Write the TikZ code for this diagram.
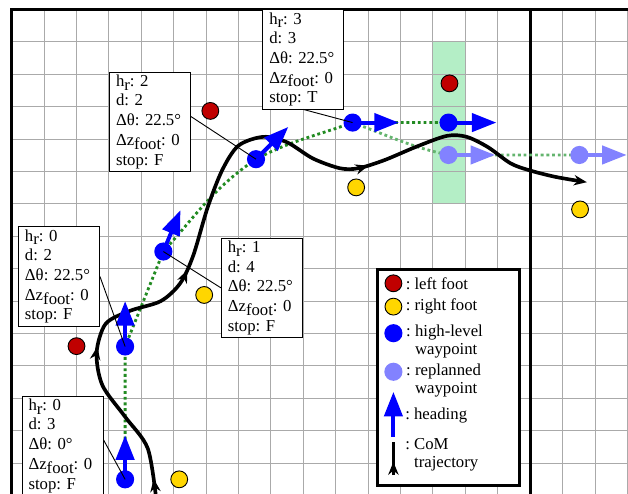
\documentclass[tikz,border=0pt]{standalone}
\usepackage{fontspec}
\setmainfont{Liberation Serif}
\usetikzlibrary{positioning,arrows.meta,decorations.markings,backgrounds}
\definecolor{pieizq}{RGB}{192,0,0}
\definecolor{pieder}{RGB}{255,214,0}
\definecolor{azulplan}{RGB}{0,0,255}
\definecolor{azulrepl}{RGB}{130,130,255}
\definecolor{verderuta}{RGB}{34,139,34}
\definecolor{verderepl}{RGB}{100,180,110}
\definecolor{verdefondo}{RGB}{180,238,198}
\definecolor{gristrama}{RGB}{170,170,170}
\newcommand{\bajo}[1]{\raisebox{-0.5ex}{#1}}
\frenchspacing

\begin{document}
\begin{tikzpicture}[
    font=\fontsize{14.7}{17.3}\selectfont,
    >={Stealth[length=0.4cm,width=0.32cm]},
    caja/.style={draw, fill=white, line width=0.8pt, align=left, text width=2.1cm,
                 inner xsep=0.2cm, inner ysep=0.08cm},
    pie/.style={circle, draw, line width=0.8pt, minimum size=0.52cm, inner sep=0pt},
    punto/.style={circle, fill=azulplan, minimum size=0.56cm, inner sep=0pt},
    rumbo/.style={line width=3.5pt, color=azulplan, -{Triangle[length=0.76cm,width=0.56cm]}},
    ruta/.style={line width=2.5pt, color=verderuta, dash pattern=on 2.5pt off 2.5pt},
    com/.style={line width=3.2pt, line cap=butt},
    conector/.style={line width=0.8pt},
    leyenda/.style={align=left, inner sep=0pt, font=\fontsize{14.7}{15.8}\selectfont}]
  \useasboundingbox (-0.361,-14.95) rectangle (19.02,0.293);
  \node[punto] (w1) at (3.5,-14.5) {};
  \node[punto] (w2) at (3.5,-10.4) {};
  \node[punto] (w3) at (4.68,-7.47) {};
  \node[punto] (w4) at (7.54,-4.62) {};
  \node[punto] (w5) at (10.52,-3.49) {};
  \node[punto] (w6) at (13.48,-3.49) {};
  \node[punto, fill=azulrepl] (r1) at (13.48,-4.49) {};
  \node[punto, fill=azulrepl] (r2) at (17.52,-4.49) {};
  \node[pie, fill=pieizq] (i1) at (2.0,-10.39) {};
  \node[pie, fill=pieizq] (i2) at (6.13,-3.13) {};
  \node[pie, fill=pieizq] (i3) at (13.51,-2.28) {};
  \node[pie, fill=pieder] (d1) at (5.17,-14.5) {};
  \node[pie, fill=pieder] (d2) at (5.94,-8.81) {};
  \node[pie, fill=pieder] (d3) at (10.63,-5.49) {};
  \node[pie, fill=pieder] (d4) at (17.54,-6.17) {};
  \begin{scope}[on background layer]
    \fill[verdefondo] (13,-1) rectangle (14,-6);
    \draw[gristrama, line width=0.8pt] (0,-14.95) grid (19.02,0);
    \draw[line width=2.6pt] (0,-14.95) -- (0,0) -- (19.02,0);
    \draw[line width=2.6pt] (16,0) -- (16,-14.95);
    \draw[ruta] (w1.center) -- (w2.center) -- (w3.center) to[out=48,in=214] (w4.center)
      to[out=28,in=200] (w5.center) -- (w6.center);
    \draw[ruta, verderepl] (w5.center) to[out=-20,in=168] (r1.center) -- (r2.center);
    \draw[com, ->, postaction={decorate}, decoration={markings,
        mark=at position 0.72cm with {\arrow{>}},
        mark=at position 5.3cm with {\arrow{>}},
        mark=at position 9.2cm with {\arrow{>}},
        mark=at position 17.68cm with {\arrow{>}}}]
      plot[smooth] coordinates {(4.47,-15.2) (4.2,-13.55) (3.5,-12.57) (2.8,-11.6)
        (2.62,-10.6) (2.9,-9.7) (3.65,-9.3) (4.6,-9.0) (5.2,-8.45) (5.6,-7.6)
        (6.05,-6.1) (6.5,-4.95) (7.0,-4.2) (7.77,-3.93) (8.5,-4.1) (9.3,-4.6)
        (10.13,-4.9) (10.7,-4.9) (11.5,-4.65) (12.5,-4.23) (13.43,-3.9) (14.04,-3.93)
        (14.7,-4.25) (15.4,-4.75) (16.0,-4.97) (16.8,-5.17) (17.75,-5.33)};
  \end{scope}
  \draw[rumbo] (w1.center) -- ++(90:1.36);
  \draw[rumbo] (w2.center) -- ++(90:1.4);
  \draw[rumbo] (w3.center) -- ++(67.5:1.38);
  \draw[rumbo] (w4.center) -- ++(45:1.41);
  \draw[rumbo] (w5.center) -- ++(0:1.43);
  \draw[rumbo] (w6.center) -- ++(0:1.48);
  \draw[rumbo, azulrepl] (r1.center) -- ++(0:1.44);
  \draw[rumbo, azulrepl] (r2.center) -- ++(0:1.46);
  \node[caja] (inf1) at (1.57,-13.46) {h\bajo{r}: 0\\ d: 3\\ Δθ: 0°\\ Δz\bajo{foot}: 0\\ stop: F};
  \node[caja] (inf2) at (1.46,-8.24) {h\bajo{r}: 0\\ d: 2\\ Δθ: 22.5°\\ Δz\bajo{foot}: 0\\ stop: F};
  \node[caja] (inf3) at (7.72,-8.59) {h\bajo{r}: 1\\ d: 4\\ Δθ: 22.5°\\ Δz\bajo{foot}: 0\\ stop: F};
  \node[caja] (inf4) at (4.27,-3.46) {h\bajo{r}: 2\\ d: 2\\ Δθ: 22.5°\\ Δz\bajo{foot}: 0\\ stop: F};
  \node[caja] (inf5) at (9.0,-1.54) {h\bajo{r}: 3\\ d: 3\\ Δθ: 22.5°\\ Δz\bajo{foot}: 0\\ stop: T};
  \draw[conector] (inf1.8) -- (w1.center);
  \draw[conector] (inf2.east) -- (w2.center);
  \draw[conector] (inf3.west) -- (w3.center);
  \draw[conector] (inf4.7) -- (w4.center);
  \draw[conector] (inf5.south) -- (w5.center);
  \node[draw, fill=white, line width=2.6pt, minimum width=4.36cm, minimum height=6.68cm] (ley) at (13.48,-11.36) {};
  \node[pie, fill=pieizq] (lizq) at (11.78,-8.45) {};
  \node[leyenda, right=0.1cm of lizq] (tizq) {: left foot};
  \node[pie, fill=pieder] (lder) at (11.78,-9.17) {};
  \node[leyenda, right=0.1cm of lder] (tder) {: right foot};
  \node[punto] (lplan) at (11.78,-9.99) {};
  \node[leyenda, right=0.1cm of lplan.east, anchor=north west, yshift=0.25cm] (tplan) {: high-level\\\phantom{: }waypoint};
  \node[punto, fill=azulrepl] (lrepl) at (11.78,-11.18) {};
  \node[leyenda, right=0.1cm of lrepl.east, anchor=north west, yshift=0.25cm] (trepl) {: replanned\\\phantom{: }waypoint};
  \coordinate (lrumbo) at (11.78,-13.19);
  \draw[rumbo] (lrumbo) -- ++(0,1.39);
  \node[leyenda, anchor=west] (trumbo) at (12.14,-12.52) {: heading};
  \coordinate (lcom) at (11.78,-14.37);
  \draw[com, postaction={decorate}, decoration={markings,
      mark=at position 0.41cm with {\arrow{>}}}] (lcom) -- ++(0,1.03);
  \node[leyenda, anchor=north west] (tcom) at (12.14,-13.24) {: CoM\\\phantom{: }trajectory};
\end{tikzpicture}
\end{document}
